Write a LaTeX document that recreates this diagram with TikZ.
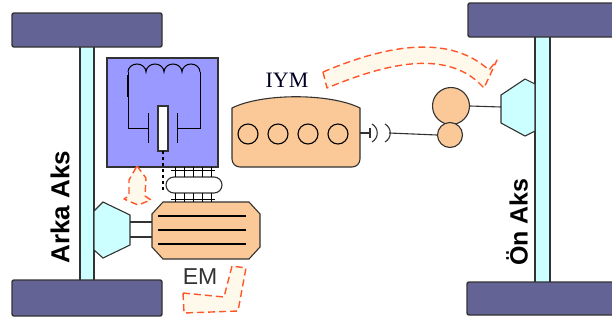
\documentclass[tikz,border=0pt]{standalone}
\usepackage{fontspec}
\setmainfont{Liberation Sans}
\newfontfamily\serifiym{Liberation Serif}
\usetikzlibrary{arrows}
\usetikzlibrary{positioning}

\definecolor{tyre}{RGB}{99,99,150}
\definecolor{shaftcyan}{RGB}{204,255,255}
\definecolor{coilblue}{RGB}{153,153,255}
\definecolor{motororange}{RGB}{251,201,151}
\definecolor{flowred}{RGB}{255,85,40}
\definecolor{flowfill}{RGB}{255,249,236}
\definecolor{edge}{RGB}{50,50,50}

\tikzset{
  wheel/.style={draw=edge, line width=1.4pt, fill=tyre, rounded corners=2pt},
  part/.style={draw=edge, line width=1.1pt},
  gear/.style={circle, draw=edge, line width=1.1pt, fill=motororange, inner sep=0pt},
  flow/.style={draw=flowred, fill=flowfill, line width=1.4pt, dash pattern=on 7pt off 4pt, line join=round},
}

\begin{document}
\begin{tikzpicture}[x=1pt,y=-1pt]
\useasboundingbox (0,0) rectangle (612,322);

% axles and wheels
\draw[part, fill=shaftcyan] (80,40) rectangle (94,285);
\draw[part, fill=shaftcyan] (535,30) rectangle (550,285);
\draw[wheel] (12,13) rectangle (162,47);
\draw[wheel] (12,280) rectangle (162,316);
\draw[wheel] (468,3) rectangle (618,37);
\draw[wheel] (467,282) rectangle (618,315);

% gear housings
\draw[part, fill=shaftcyan] (94,211) -- (103,202) -- (130,215) -- (130,245) -- (103,258) -- (94,250) -- cycle;
\draw[part, fill=shaftcyan] (535,84) -- (525,79) -- (501,95) -- (501,123) -- (525,136) -- (535,131) -- cycle;
\coordinate (fronthub) at (501,107);
\coordinate (rearhub) at (130,230);

% electric machine
\draw[part, fill=motororange] (163,202) -- (249,202) -- (260,214) -- (260,247) -- (249,259)
  -- (163,259) -- (152,247) -- (152,214) -- cycle;
\foreach \y in {216,230,244}
  \draw[line width=1.1pt] (158,\y) -- (246,\y);
\draw[part] (130,222) -- (152,222);
\draw[part] (130,237) -- (152,237);

% generator box
\draw[part, fill=coilblue] (107,58) rectangle (218,167);
\draw[line width=1pt] (128,72)
  arc[start angle=180, end angle=360, x radius=9, y radius=8]
  arc[start angle=180, end angle=360, x radius=9, y radius=8]
  arc[start angle=180, end angle=360, x radius=9, y radius=8]
  arc[start angle=180, end angle=360, x radius=9, y radius=8];
\draw[line width=1pt] (128,72) -- (128,128) -- (148,128);
\draw[line width=1pt] (200,72) -- (200,128) -- (177,128);
\draw[line width=2.6pt] (128,75) -- (128,97);
\draw[line width=1pt] (148,113) -- (148,143);
\draw[line width=1pt] (177,113) -- (177,143);
\draw[part, fill=white] (158,106) rectangle (168,151);
\draw[line width=1.2pt, dashed] (163,151) -- (163,190);

% coupling between box and machine
\draw[part, fill=white, rounded corners=8pt] (166,177) rectangle (222,193);
\foreach \x in {175,184,193,202,211} {
  \draw[line width=1pt] (\x,167) -- (\x,177);
  \draw[line width=1pt] (\x,193) -- (\x,202);
}
\draw[line width=1pt] (171,170) -- (215,170);
\draw[line width=1pt] (171,199) -- (215,199);

% combustion engine
\draw[part, fill=motororange] (232,108) .. controls (262,93) and (330,93) .. (360,108)
  -- (360,159) arc[start angle=0, end angle=90, radius=8]
  -- (240,167) arc[start angle=90, end angle=180, radius=8] -- cycle;
\foreach \x in {248,278,308,338}
  \draw[line width=1.1pt] (\x,134) circle (10);

% clutch and front gears
\draw[part] (360,133) -- (370,133);
\draw[part] (370,128) -- (370,138);
\draw[part] (372,124) .. controls (379,128) and (379,138) .. (372,142);
\draw[part] (385,124) .. controls (392,128) and (392,138) .. (385,142);
\coordinate (clutchout) at (389,133);
\node[gear, minimum size=37pt] (bigwheel) at (451,106) {};
\node[gear, minimum size=25pt] (smallwheel) at (450,135) {};
\draw[part] (clutchout) -- (smallwheel.west);
\draw[part] (bigwheel.east) -- (fronthub);

% power flow
\draw[flow] (323,72) .. controls (375,50) and (445,30) .. (489,70) -- (497,60) -- (484,88)
  -- (478,82) .. controls (440,48) and (378,67) .. (327,88) -- cycle;
\draw[flow] (183,293) -- (224,297) -- (232,266) -- (246,268) -- (238,311) -- (184,313) -- cycle;
\draw[flow] (137,166) -- (146,178) -- (145,196) -- (151,200) -- (138,205) -- (124,199)
  -- (129,196) -- (129,180) -- cycle;

% labels
\node[font=\serifiym\fontsize{22}{22}\selectfont, text=black!85!blue] (iym) at (287,80) {IYM};
\node[font=\fontsize{23}{23}\selectfont, text=edge] (em) at (200,277) {EM};
\node[rotate=90, font=\bfseries\fontsize{26}{26}\selectfont] (rearlabel) at (60,207) {Arka Aks};
\node[rotate=90, font=\bfseries\fontsize{25}{25}\selectfont] (frontlabel) at (517,222) {Ön Aks};
\end{tikzpicture}
\end{document}
